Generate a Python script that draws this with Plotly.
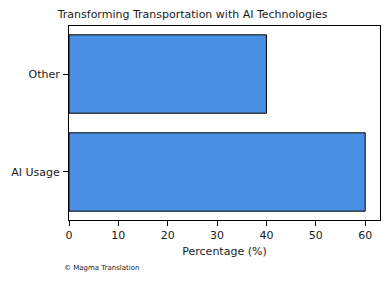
import plotly.graph_objects as go

categories = ["AI Usage", "Other"]
values = [60, 40]
x_ticks = [0, 10, 20, 30, 40, 50, 60]

font = "DejaVu Sans"
fig = go.Figure()
fig.add_trace(go.Bar(
    y=categories, x=values, orientation="h",
    marker=dict(color="#4a90e2", line=dict(color="black", width=1)),
    width=0.8,
))
fig.update_layout(
    width=390, height=282,
    margin=dict(l=69, r=10, t=26, b=62),
    plot_bgcolor="white", paper_bgcolor="white",
    font=dict(family=font, size=11, color="#1a1a1a"),
    showlegend=False,
    title=dict(text="Transforming Transportation with AI Technologies",
               x=0.494, xref="container", xanchor="center",
               y=0.95, yref="container", yanchor="middle",
               font=dict(family=font, size=11, color="#1a1a1a")),
    xaxis=dict(range=[0, 63], tickvals=x_ticks, ticks="outside", ticklen=5,
               tickcolor="black", showline=True, linecolor="black", linewidth=1,
               mirror=True, showgrid=False, zeroline=False,
               tickfont=dict(size=11),
               title=dict(text="Percentage (%)", font=dict(size=11), standoff=6)),
    yaxis=dict(range=[-0.49, 1.49], type="category", ticks="outside", ticklen=5,
               tickcolor="black", showline=True, linecolor="black", linewidth=1,
               mirror=True, showgrid=False, zeroline=False,
               tickfont=dict(size=11), categoryorder="array",
               categoryarray=categories, ticklabelstandoff=1),
)
fig.add_annotation(text="© Magma Translation", xref="paper", yref="paper",
                   x=-0.023, y=-0.245, xanchor="left", yanchor="middle",
                   showarrow=False, font=dict(family=font, size=7, color="#1a1a1a"))
fig.write_html("out.html")
